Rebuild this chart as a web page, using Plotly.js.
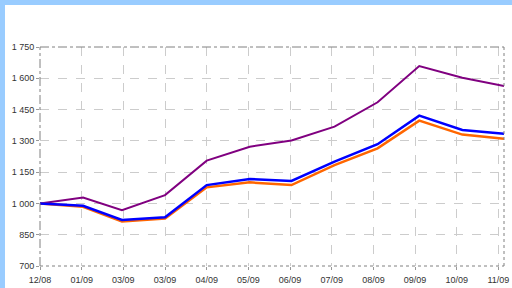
<!DOCTYPE html>
<html>
<head>
<meta charset="utf-8">
<script src="https://cdn.plot.ly/plotly-3.0.1.min.js"></script>
<style>
html,body{margin:0;padding:0;background:#fff;}
#wrap{position:relative;width:512px;height:288px;overflow:hidden;}
#chart{position:absolute;left:0;top:0;width:512px;height:288px;}
.band{position:absolute;background:#99ccff;pointer-events:none;}
</style>
</head>
<body>
<div id="wrap">
<div id="chart"></div>
<div class="band" style="left:0;top:0;width:512px;height:5px;"></div>
<div class="band" style="left:0;top:0;width:5px;height:288px;"></div>
</div>
<script>
// Data points (month ends)
const dates = ['2008-12-31','2009-01-31','2009-02-28','2009-03-31','2009-04-30','2009-05-31',
               '2009-06-30','2009-07-31','2009-08-31','2009-09-30','2009-10-31','2009-11-30'];
const purpleSeries = [1000, 1028, 967, 1040, 1205, 1272, 1302, 1368, 1485, 1659, 1603, 1563];
const blueSeries   = [1000, 989, 921, 934, 1088, 1117, 1108, 1200, 1284, 1421, 1352, 1334];
const orangeSeries = [1000, 984, 914, 927, 1077, 1101, 1088, 1184, 1264, 1397, 1330, 1310];

// Tick positions (every 30 days) and their labels
const tickDates = ['2008-12-31','2009-01-30','2009-03-01','2009-03-31','2009-04-30','2009-05-30',
                   '2009-06-29','2009-07-29','2009-08-28','2009-09-27','2009-10-27','2009-11-26'];
const tickLabels = ['12/08','01/09','03/09','03/09','04/09','05/09','06/09','07/09','08/09','09/09','10/09','11/09'];
const yTicks = [700, 850, 1000, 1150, 1300, 1450, 1600, 1750];
const yTickLabels = ['700','850','1 000','1 150','1 300','1 450','1 600','1 750'];

const traces = [
  {x: dates, y: purpleSeries, type: 'scatter', mode: 'lines', line: {color: '#800080', width: 2}, hoverinfo: 'skip'},
  {x: dates, y: orangeSeries, type: 'scatter', mode: 'lines', line: {color: '#ff6600', width: 2.5}, hoverinfo: 'skip'},
  {x: dates, y: blueSeries, type: 'scatter', mode: 'lines', line: {color: '#0000ff', width: 2.5}, hoverinfo: 'skip'}
];

const gridColor = '#cccccc';
const layout = {
  width: 512, height: 288,
  margin: {l: 40, r: 8, t: 47, b: 22, pad: 0},
  paper_bgcolor: '#ffffff', plot_bgcolor: '#ffffff',
  showlegend: false,
  font: {family: 'Liberation Sans, Arial, sans-serif', size: 9, color: '#333333'},
  xaxis: {
    type: 'date',
    range: ['2008-12-31', '2009-11-30'],
    tickmode: 'array', tickvals: tickDates, ticktext: tickLabels,
    showgrid: true, gridcolor: gridColor, gridwidth: 1, griddash: 'dash',
    ticks: 'outside', ticklen: 3, tickcolor: '#999999',
    ticklabelstandoff: 2,
    showline: false, zeroline: false,
    tickfont: {size: 9, color: '#333333'}
  },
  yaxis: {
    range: [700, 1750],
    tickmode: 'array', tickvals: yTicks, ticktext: yTickLabels,
    showgrid: true, gridcolor: gridColor, gridwidth: 1, griddash: 'dash',
    ticks: 'outside', ticklen: 3, tickcolor: '#999999',
    showline: false, zeroline: false,
    tickfont: {size: 9, color: '#333333'}
  },
  shapes: [
    {type: 'line', xref: 'paper', yref: 'paper', x0: 0, x1: 1, y0: 1, y1: 1, line: {color: '#808080', width: 1, dash: 'dashdot'}},
    {type: 'line', xref: 'paper', yref: 'paper', x0: 0, x1: 0, y0: 0, y1: 1, line: {color: '#808080', width: 1, dash: 'dashdot'}},
    {type: 'line', xref: 'paper', yref: 'paper', x0: 0, x1: 1, y0: 0, y1: 0, line: {color: '#808080', width: 1, dash: 'dot'}},
    {type: 'line', xref: 'paper', yref: 'paper', x0: 1, x1: 1, y0: 0, y1: 1, line: {color: '#808080', width: 1, dash: 'dot'}}
  ]
};

Plotly.newPlot('chart', traces, layout, {staticPlot: true, displayModeBar: false});
</script>
</body>
</html>
